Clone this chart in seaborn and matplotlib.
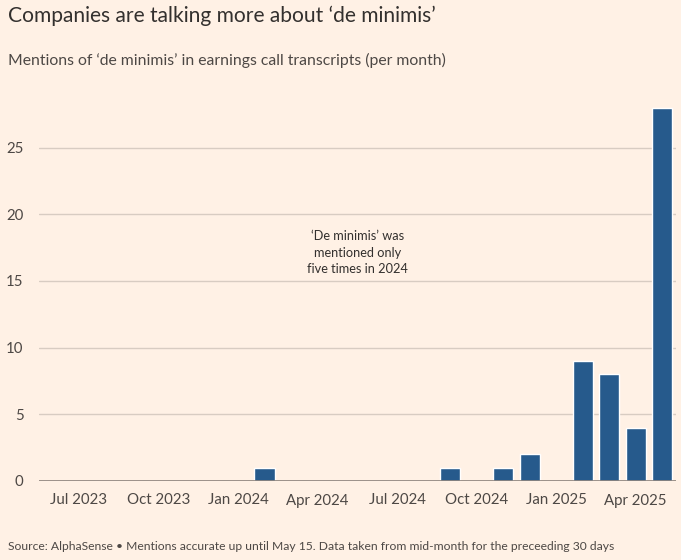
import matplotlib
matplotlib.use("Agg")
from matplotlib import pyplot as plt
import seaborn as sns
import pandas as pd

# monthly mentions, Jun 2023 -> May 2025
months = ['2023-06', '2023-07', '2023-08', '2023-09', '2023-10', '2023-11',
          '2023-12', '2024-01', '2024-02', '2024-03', '2024-04', '2024-05',
          '2024-06', '2024-07', '2024-08', '2024-09', '2024-10', '2024-11',
          '2024-12', '2025-01', '2025-02', '2025-03', '2025-04', '2025-05']
mentions = [0, 0, 0, 0, 0, 0,
            0, 0, 1, 0, 0, 0,
            0, 0, 0, 1, 0, 1,
            2, 0, 9, 8, 4, 28]
y_ticks = [0, 5, 10, 15, 20, 25]

BG = '#FFF1E5'
BAR = '#265A8C'
TEXT = '#33302E'
SUB = '#4D4845'
GRID = '#D8CCC2'

sns.set_style('white')
plt.rcParams['font.family'] = ['Lato', 'DejaVu Sans']

df = pd.DataFrame({'month': pd.to_datetime(months), 'mentions': mentions})
df['label'] = df['month'].dt.strftime('%b %Y')

fig = plt.figure(figsize=(6.81, 5.6), dpi=100, facecolor=BG)
ax = fig.add_axes([39 / 681, 1 - 481 / 560, (675.5 - 39) / 681, (481 - 95) / 560])
ax.set_facecolor(BG)

sns.barplot(data=df, x='label', y='mentions', color=BAR, width=0.76,
            saturation=1, ax=ax, zorder=3)

ax.set_ylim(0, 28.95)
ax.set_xlim(-0.5, len(months) - 0.5)
ax.set_yticks(y_ticks)
ax.set_yticklabels([str(t) for t in y_ticks])
ax.grid(axis='y', color=GRID, linewidth=1, zorder=0)
ax.axhline(0, color='#8C827B', linewidth=1.2, zorder=4)

# quarterly ticks on Jan/Apr/Jul/Oct
qpos = [i for i, m in enumerate(df['month']) if m.month in (1, 4, 7, 10)]
ax.set_xticks(qpos)
ax.set_xticklabels([df['label'][i] for i in qpos])

for s in ax.spines.values():
    s.set_visible(False)
ax.tick_params(axis='x', length=7, width=1, color='#8C827B', labelsize=10.8,
               labelcolor=SUB, pad=2)
ax.tick_params(axis='y', length=0, labelsize=10.8, labelcolor=SUB, pad=11)
ax.set_xlabel('')
ax.set_ylabel('')

ax.text(11.5, 17.1, '‘De minimis’ was\nmentioned only\nfive times in 2024',
        ha='center', va='center', fontsize=9.2, color=TEXT, linespacing=1.45)

fig.text(8 / 681, 1 - 16 / 560, 'Companies are talking more about ‘de minimis’',
         fontsize=15.1, color=TEXT, va='center', ha='left')
fig.text(8 / 681, 1 - 60 / 560,
         'Mentions of ‘de minimis’ in earnings call transcripts (per month)',
         fontsize=11.35, color=SUB, va='center', ha='left')
fig.text(8 / 681, 1 - 546 / 560,
         'Source: AlphaSense • Mentions accurate up until May 15. Data taken from mid-month for the preceeding 30 days',
         fontsize=8.7, color=SUB, va='center', ha='left')

fig.savefig('out.png', dpi=100, facecolor=BG)
